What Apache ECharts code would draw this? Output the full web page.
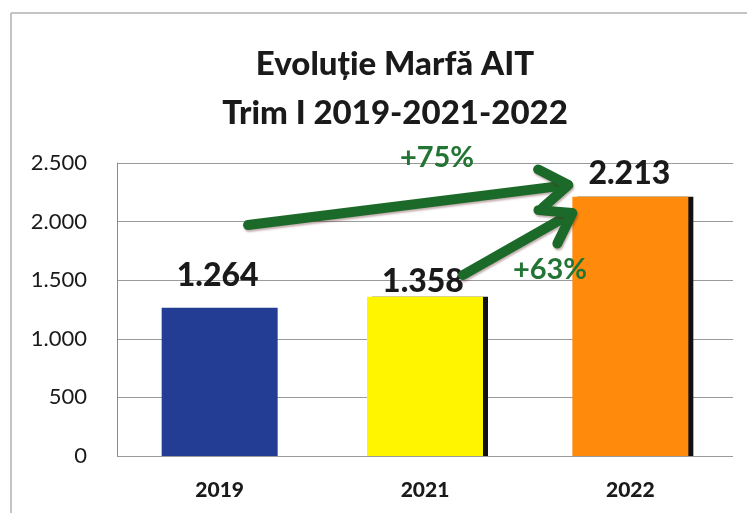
<!DOCTYPE html>
<html>
<head>
<meta charset="utf-8">
<script src="https://cdn.jsdelivr.net/npm/echarts@6/dist/echarts.min.js"></script>
<style>
  html, body { margin: 0; padding: 0; background: #fff; overflow: hidden; }
  #container { width: 747px; height: 513px; }
</style>
</head>
<body>
<div id="container"></div>
<script>
// date
var years = ['2019', '2021', '2022'];
var marfa = [1264, 1358, 2213];
var barColors = ['#233d94', '#fff500', '#ff8a0c'];
var growthLabels = ['+75%', '+63%'];
var yTicks = [0, 500, 1000, 1500, 2000, 2500];

// ajustari de pozitie pentru etichete (ca in imagine)
var labelOffsets = [[-2, -11], [-2, 6], [-1, -2]];
var hasShadow = [false, true, true];

function fmt(v) {
    // separator de mii romanesc
    return String(v).replace(/\B(?=(\d{3})+(?!\d))/g, '.');
}

var myChart = echarts.init(document.getElementById('container'));
var font = 'Lato, "Open Sans", sans-serif';
var green = '#1c6a2a';

var barData = marfa.map(function (v, i) {
    return {
        value: v,
        itemStyle: {
            color: barColors[i],
            shadowColor: hasShadow[i] ? '#111' : 'rgba(0,0,0,0)',
            shadowOffsetX: hasShadow[i] ? 5 : 0,
            shadowBlur: 0
        },
        label: { offset: labelOffsets[i] }
    };
});

var option = {
    backgroundColor: '#fff',
    animation: false,
    textStyle: { fontFamily: font },
    title: {
        text: 'Evoluție Marfă AIT\nTrim I 2019-2021-2022',
        left: 390,
        top: 35,
        textAlign: 'center',
        textStyle: {
            fontFamily: font,
            fontSize: 33,
            fontWeight: 900,
            color: '#1a1a1a',
            lineHeight: 49
        }
    },
    grid: { left: 117, top: 163, right: 14, bottom: 57 },
    xAxis: {
        type: 'category',
        data: years,
        axisLine: { show: false },
        axisTick: { show: false },
        axisLabel: {
            margin: 24,
            fontSize: 21,
            fontWeight: 900,
            color: '#1a1a1a',
            fontFamily: font
        }
    },
    yAxis: {
        type: 'value',
        min: yTicks[0],
        max: yTicks[yTicks.length - 1],
        interval: 500,
        axisLine: { show: true, lineStyle: { color: '#8a8a8a' } },
        axisTick: { show: false },
        axisLabel: {
            margin: 30,
            fontSize: 22,
            color: '#1a1a1a',
            fontFamily: font,
            formatter: function (v) { return fmt(v); }
        },
        splitLine: { lineStyle: { color: '#9a9a9a', width: 1 } }
    },
    series: [
        {
            type: 'bar',
            barWidth: 116,
            data: barData,
            label: {
                show: true,
                position: 'top',
                distance: 5,
                fontSize: 32,
                fontWeight: 900,
                color: '#1a1a1a',
                fontFamily: font,
                formatter: function (p) { return fmt(p.value); }
            }
        }
    ]
};

myChart.setOption(option);

// sageti si procente (adnotari)
function arrow(x1, y1, x2, y2) {
    var ang = Math.atan2(y2 - y1, x2 - x1);
    var len = 34, spread = 0.6;
    var a1 = [x2 - len * Math.cos(ang - spread), y2 - len * Math.sin(ang - spread)];
    var a2 = [x2 - len * Math.cos(ang + spread), y2 - len * Math.sin(ang + spread)];
    var style = { stroke: green, lineWidth: 10, lineCap: 'round', lineJoin: 'round',
        shadowColor: 'rgba(90,30,30,0.35)', shadowBlur: 2, shadowOffsetX: 1, shadowOffsetY: 2 };
    return [
        { type: 'line', shape: { x1: x1, y1: y1, x2: x2 - 5 * Math.cos(ang), y2: y2 - 5 * Math.sin(ang) }, style: style, z: 100 },
        { type: 'polyline', shape: { points: [a1, [x2, y2], a2] }, style: style, z: 100 }
    ];
}

// capetele sagetilor legate de barele 2021 si 2022
var p21 = myChart.convertToPixel({ gridIndex: 0 }, ['2021', marfa[1]]);
var p22 = myChart.convertToPixel({ gridIndex: 0 }, ['2022', marfa[2]]);

var frame = { stroke: '#b0b0b0', lineWidth: 1.5 };
var graphics = [
    { type: 'line', shape: { x1: 11, y1: 13, x2: 747, y2: 13 }, style: frame, z: -1 },
    { type: 'line', shape: { x1: 11, y1: 13, x2: 11, y2: 513 }, style: frame, z: -1 }
];
graphics = graphics.concat(arrow(248, 225, p22[0] - 62, 185));
graphics = graphics.concat(arrow(p21[0] + 38, 275, p22[0] - 58, 213));
graphics.push({
    type: 'text', x: 437, y: 158, z: 100,
    style: { text: growthLabels[0], fill: '#237534', font: 'bold 29px ' + font,
        textAlign: 'center', textVerticalAlign: 'middle' }
});
graphics.push({
    type: 'text', x: 550, y: 270, z: 100,
    style: { text: growthLabels[1], fill: '#237534', font: 'bold 29px ' + font,
        textAlign: 'center', textVerticalAlign: 'middle' }
});

myChart.setOption({ graphic: graphics });
</script>
</body>
</html>
